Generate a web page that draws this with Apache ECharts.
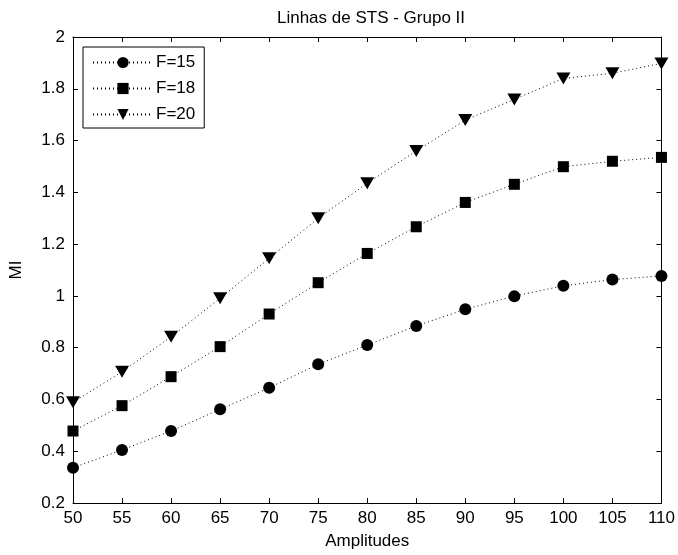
<!DOCTYPE html>
<html>
<head>
<meta charset="utf-8">
<script src="https://cdn.jsdelivr.net/npm/echarts@6/dist/echarts.min.js"></script>
<style>
  html, body { margin: 0; padding: 0; background: #fff; }
  #chart { width: 678px; height: 555px; }
</style>
</head>
<body>
<div id="chart"></div>
<script>
// Amplitudes on the x axis
const amplitudes = [50, 55, 60, 65, 70, 75, 80, 85, 90, 95, 100, 105, 110];
// MI values for each F level
const f15 = [0.336, 0.405, 0.478, 0.562, 0.645, 0.736, 0.81, 0.884, 0.948, 0.999, 1.039, 1.063, 1.077];
const f18 = [0.478, 0.576, 0.688, 0.804, 0.93, 1.051, 1.164, 1.267, 1.361, 1.431, 1.499, 1.52, 1.535];
const f20 = [0.589, 0.707, 0.842, 0.991, 1.145, 1.30, 1.435, 1.56, 1.679, 1.759, 1.84, 1.86, 1.898];
const seriesNames = ['F=15', 'F=18', 'F=20'];

const font = 'Liberation Sans, Arial, sans-serif';
const fontSize = 17;
const pairs = vals => amplitudes.map((a, i) => [a, vals[i]]);

const tickStyle = { show: true, inside: true, length: 5, lineStyle: { color: '#000', width: 1 } };
const axisLine = { show: true, onZero: false, lineStyle: { color: '#000', width: 1 } };

function makeSeries(name, vals, symbol, size, rotate) {
  return {
    name: name,
    type: 'line',
    data: pairs(vals),
    symbol: symbol,
    symbolSize: size,
    symbolRotate: rotate || 0,
    showAllSymbol: true,
    itemStyle: { color: '#000' },
    lineStyle: { color: '#000', width: 1, type: [1, 3] },
    emphasis: { disabled: true },
    animation: false
  };
}

const chart = echarts.init(document.getElementById('chart'), null, { renderer: 'canvas' });
chart.setOption({
  backgroundColor: '#fff',
  animation: false,
  title: {
    text: 'Linhas de STS - Grupo II',
    left: 366,
    top: 5,
    textAlign: 'center',
    textStyle: { fontFamily: font, fontSize: fontSize, fontWeight: 'normal', color: '#000' }
  },
  legend: {
    data: seriesNames,
    orient: 'vertical',
    left: 83,
    top: 47,
    itemWidth: 60,
    itemHeight: 14,
    itemGap: 9,
    padding: [7, 9, 5, 9],
    borderColor: '#000',
    borderWidth: 1,
    backgroundColor: '#fff',
    textStyle: { fontFamily: font, fontSize: fontSize, color: '#000', padding: [0, 0, 0, -2] }
  },
  grid: { left: 71, right: 16, top: 37, bottom: 52, containLabel: false },
  xAxis: [
    {
      type: 'value', min: 50, max: 110, interval: 5,
      name: 'Amplitudes', nameLocation: 'middle', nameGap: 30,
      nameTextStyle: { fontFamily: font, fontSize: fontSize, color: '#000' },
      axisLine: axisLine, axisTick: tickStyle, splitLine: { show: false },
      axisLabel: { fontFamily: font, fontSize: fontSize, color: '#000', margin: 7 }
    },
    {
      type: 'value', position: 'top', min: 50, max: 110, interval: 5,
      axisLine: axisLine, axisTick: tickStyle, splitLine: { show: false },
      axisLabel: { show: false }
    }
  ],
  yAxis: [
    {
      type: 'value', min: 0.2, max: 2, interval: 0.2,
      name: 'MI', nameLocation: 'middle', nameGap: 48,
      nameTextStyle: { fontFamily: font, fontSize: fontSize, color: '#000' },
      axisLine: axisLine, axisTick: tickStyle, splitLine: { show: false },
      axisLabel: {
        fontFamily: font, fontSize: fontSize, color: '#000', margin: 8,
        formatter: v => String(parseFloat(v.toFixed(1)))
      }
    },
    {
      type: 'value', position: 'right', min: 0.2, max: 2, interval: 0.2,
      axisLine: axisLine, axisTick: tickStyle, splitLine: { show: false },
      axisLabel: { show: false }
    }
  ],
  series: [
    makeSeries(seriesNames[0], f15, 'circle', 12),
    makeSeries(seriesNames[1], f18, 'rect', 11),
    makeSeries(seriesNames[2], f20, 'triangle', [14, 12], 180)
  ]
});
</script>
</body>
</html>
